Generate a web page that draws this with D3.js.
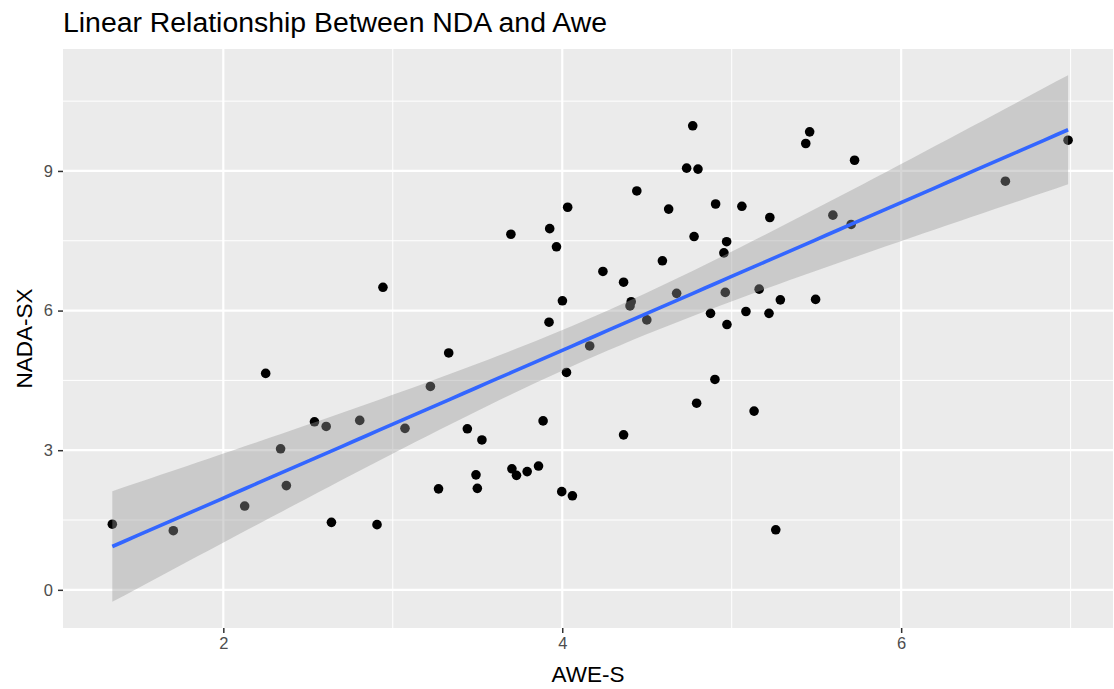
<!DOCTYPE html>
<html>
<head>
<meta charset="utf-8">
<script src="https://cdn.jsdelivr.net/npm/d3@7"></script>
<style>
  body { margin: 0; background: #fff; }
  svg { display: block; font-family: "Liberation Sans", Arial, sans-serif; }
  .tick-label { fill: #4d4d4d; font-size: 16.5px; }
  .axis-title { fill: #000; font-size: 22.5px; }
  .title { fill: #000; font-size: 28.4px; }
</style>
</head>
<body>
<div id="chart"></div>
<script>
// AWE-S scores (x) and NADA-SX scores (y)
const aweS = [
  1.345, 1.705, 2.126, 2.372, 2.338, 2.638, 2.907, 2.25, 2.538, 2.607,
  2.805, 3.072, 2.942, 3.222, 3.33, 3.27, 3.44, 3.491, 3.499, 3.526,
  3.697, 3.703, 3.73, 3.793, 3.86, 3.887, 3.922, 3.926, 3.966, 3.997,
  4.001, 4.025, 4.032, 4.06, 4.162, 4.24, 4.362, 4.362, 4.407, 4.4,
  4.44, 4.499, 4.591, 4.628, 4.675, 4.734, 4.77, 4.778, 4.793, 4.801,
  4.875, 4.901, 4.905, 4.954, 4.962, 4.97, 4.972, 5.06, 5.084, 5.132,
  5.162, 5.22, 5.225, 5.26, 5.287, 5.437, 5.46, 5.495, 5.597, 5.705,
  5.725, 6.615, 6.985
];
const nadaSX = [
  1.41, 1.27, 1.80, 2.24, 3.03, 1.45, 1.40, 4.65, 3.61, 3.51,
  3.64, 3.47, 6.50, 4.37, 5.09, 2.17, 3.46, 2.47, 2.18, 3.22,
  7.64, 2.60, 2.46, 2.54, 2.66, 3.63, 5.75, 7.76, 7.37, 2.11,
  6.21, 4.67, 8.22, 2.02, 5.24, 6.84, 6.61, 3.33, 6.19, 6.10,
  8.57, 5.80, 7.07, 8.18, 6.37, 9.06, 9.97, 7.59, 4.01, 9.04,
  5.94, 4.52, 8.29, 7.24, 6.39, 7.48, 5.70, 8.24, 5.98, 3.84,
  6.46, 5.94, 8.00, 1.29, 6.23, 9.59, 9.84, 6.24, 8.05, 7.85,
  9.23, 8.78, 9.66
];
const xTicks = [2, 4, 6];
const yTicks = [0, 3, 6, 9];
const xMinor = [1, 3, 5, 7];
const yMinor = [1.5, 4.5, 7.5, 10.5];

const width = 1114;
const height = 689;
const margin = { top: 49, right: 1, bottom: 61, left: 63 };
const panelW = width - margin.left - margin.right;
const panelH = height - margin.top - margin.bottom;

const points = aweS.map((x, i) => ({ x, y: nadaSX[i] }));

// lm fit with 95% confidence band, like geom_smooth(method = "lm")
const n = points.length;
const xbar = d3.mean(points, (d) => d.x);
const ybar = d3.mean(points, (d) => d.y);
const sxx = d3.sum(points, (d) => (d.x - xbar) ** 2);
const sxy = d3.sum(points, (d) => (d.x - xbar) * (d.y - ybar));
const slope = sxy / sxx;
const intercept = ybar - slope * xbar;
const rss = d3.sum(points, (d) => (d.y - intercept - slope * d.x) ** 2);
const sigma = Math.sqrt(rss / (n - 2));
const tCrit = 1.994; // qt(0.975, 71)
const [xLo, xHi] = d3.extent(points, (d) => d.x);
const fit = d3.range(80).map((i) => {
  const x = xLo + ((xHi - xLo) * i) / 79;
  const yhat = intercept + slope * x;
  const se = sigma * Math.sqrt(1 / n + (x - xbar) ** 2 / sxx);
  return { x, y: yhat, lo: yhat - tCrit * se, hi: yhat + tCrit * se };
});

const x = d3.scaleLinear().domain([1.054, 7.25]).range([0, panelW]);
const y = d3.scaleLinear().domain([-0.82, 11.62]).range([panelH, 0]);

const svg = d3
  .select("#chart")
  .append("svg")
  .attr("width", width)
  .attr("height", height);

svg
  .append("text")
  .attr("class", "title")
  .attr("x", margin.left)
  .attr("y", 32)
  .text("Linear Relationship Between NDA and Awe");

const g = svg
  .append("g")
  .attr("transform", `translate(${margin.left},${margin.top})`);

g.append("rect")
  .attr("width", panelW)
  .attr("height", panelH)
  .attr("fill", "#ebebeb");

// grid
g.append("g")
  .selectAll("line")
  .data(xMinor)
  .join("line")
  .attr("x1", x)
  .attr("x2", x)
  .attr("y1", 0)
  .attr("y2", panelH)
  .attr("stroke", "#fff")
  .attr("stroke-width", 1);
g.append("g")
  .selectAll("line")
  .data(yMinor)
  .join("line")
  .attr("y1", y)
  .attr("y2", y)
  .attr("x1", 0)
  .attr("x2", panelW)
  .attr("stroke", "#fff")
  .attr("stroke-width", 1);
g.append("g")
  .selectAll("line")
  .data(xTicks)
  .join("line")
  .attr("x1", x)
  .attr("x2", x)
  .attr("y1", 0)
  .attr("y2", panelH)
  .attr("stroke", "#fff")
  .attr("stroke-width", 2.2);
g.append("g")
  .selectAll("line")
  .data(yTicks)
  .join("line")
  .attr("y1", y)
  .attr("y2", y)
  .attr("x1", 0)
  .attr("x2", panelW)
  .attr("stroke", "#fff")
  .attr("stroke-width", 2.2);

// points go under the smoother, as in ggplot layer order
g.append("g")
  .selectAll("circle")
  .data(points)
  .join("circle")
  .attr("cx", (d) => x(d.x))
  .attr("cy", (d) => y(d.y))
  .attr("r", 4.8)
  .attr("fill", "#000");

g.append("path")
  .datum(fit)
  .attr("fill", "#999999")
  .attr("fill-opacity", 0.4)
  .attr(
    "d",
    d3
      .area()
      .x((d) => x(d.x))
      .y0((d) => y(d.lo))
      .y1((d) => y(d.hi))
  );

g.append("path")
  .datum(fit)
  .attr("fill", "none")
  .attr("stroke", "#3366ff")
  .attr("stroke-width", 3.6)
  .attr(
    "d",
    d3
      .line()
      .x((d) => x(d.x))
      .y((d) => y(d.y))
  );

// axes
const gX = g
  .append("g")
  .attr("transform", `translate(0,${panelH})`)
  .call(d3.axisBottom(x).tickValues(xTicks).tickSize(5).tickPadding(4).tickFormat(d3.format("d")));
const gY = g
  .append("g")
  .call(d3.axisLeft(y).tickValues(yTicks).tickSize(5).tickPadding(5).tickFormat(d3.format("d")));
[gX, gY].forEach((ax) => {
  ax.select(".domain").remove();
  ax.selectAll(".tick line").attr("stroke", "#333333").attr("stroke-width", 1.5);
  ax.selectAll(".tick text")
    .attr("class", "tick-label")
    .attr("font-family", null)
    .attr("font-size", null);
});
gX.attr("font-family", null).attr("font-size", null);
gY.attr("font-family", null).attr("font-size", null);

svg
  .append("text")
  .attr("class", "axis-title")
  .attr("text-anchor", "middle")
  .attr("x", margin.left + panelW / 2)
  .attr("y", 682)
  .text("AWE-S");

svg
  .append("text")
  .attr("class", "axis-title")
  .attr("text-anchor", "middle")
  .attr("transform", `translate(32,${margin.top + panelH / 2}) rotate(-90)`)
  .text("NADA-SX");
</script>
</body>
</html>
